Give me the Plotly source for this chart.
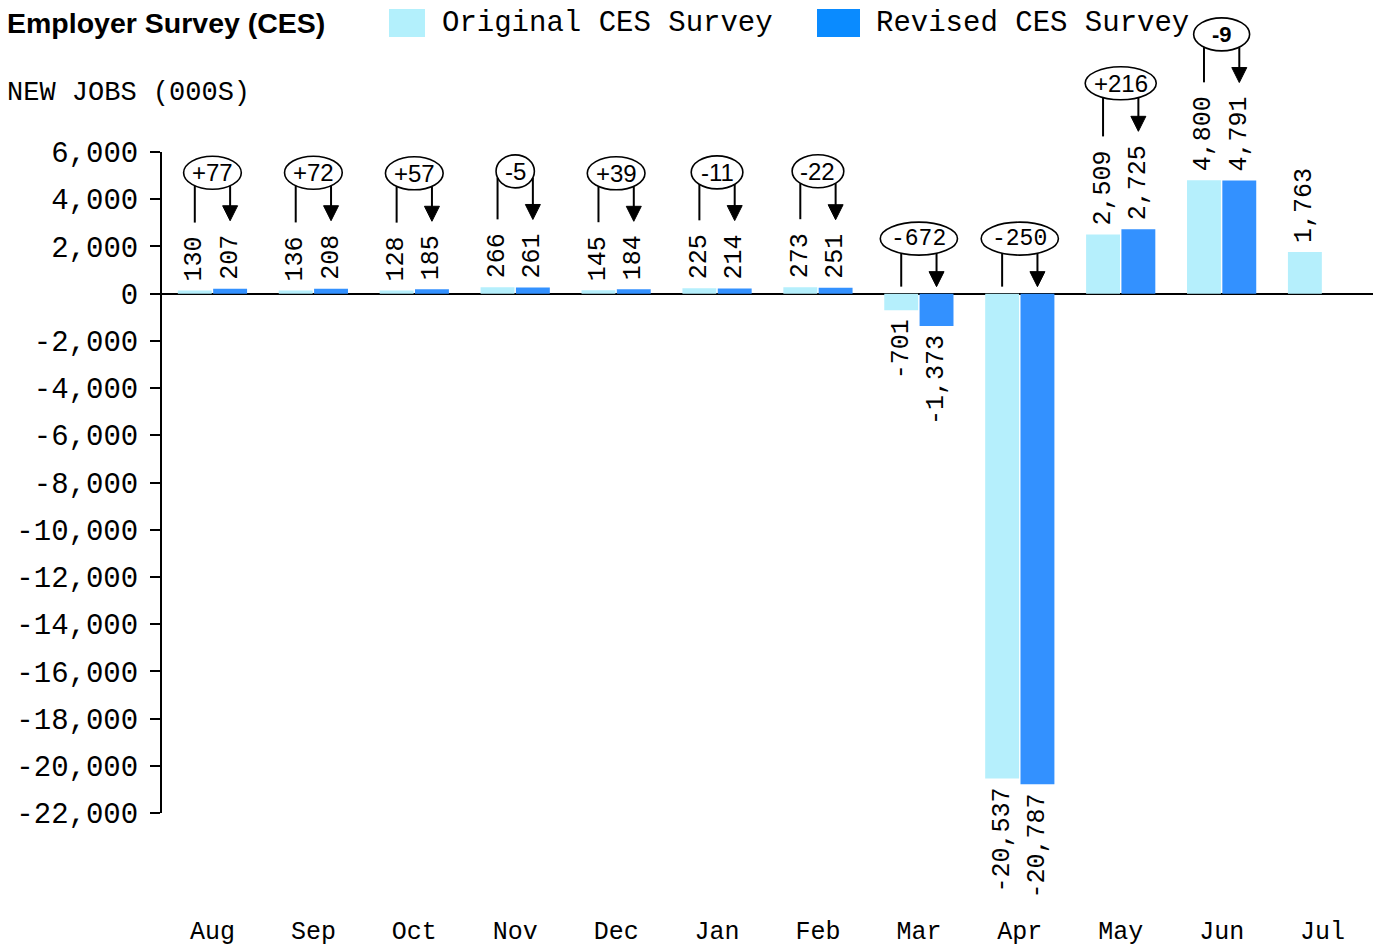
import plotly.graph_objects as go

# ---------------- data ----------------
months = ["Aug", "Sep", "Oct", "Nov", "Dec", "Jan", "Feb", "Mar", "Apr", "May", "Jun", "Jul"]
original = [130, 136, 128, 266, 145, 225, 273, -701, -20537, 2509, 4800, 1763]
revised = [207, 208, 185, 261, 184, 214, 251, -1373, -20787, 2725, 4791, None]
y_ticks = [6000, 4000, 2000, 0, -2000, -4000, -6000, -8000, -10000, -12000,
           -14000, -16000, -18000, -20000, -22000]
series_names = ["Original CES Survey", "Revised CES Survey"]

# ---------------- layout constants ----------------
PAGE = 8                      # browser body margin
W, H = 1386 - PAGE, 951 - PAGE
L, T = 162 - PAGE, 152 - PAGE
R, B = W - (1373 - PAGE), H - (813 - PAGE)
Y_MIN, Y_MAX = -22000, 6000
BARGAP = 0.3
MONO = "Liberation Mono"
SANS = "Liberation Sans"
C_ORIG = "#B5EFFC"
C_REV = "#3391FF"
C_ORIG_LEG = "#B3F0FC"
C_REV_LEG = "#0A8BFF"

plot_w = W - L - R
plot_h = H - T - B
ppu = plot_h / (Y_MAX - Y_MIN)          # pixels per data unit on y
zero_frac = (0 - Y_MIN) / (Y_MAX - Y_MIN)
cat_px = plot_w / len(months)           # pixels per category
bar_off = (1 - BARGAP) * cat_px / 4     # centre offset of each bar in a pair

PAD = '<span style="font-size:10px">\u00a0</span>'


def fmt(v):
    return "" if v is None else f"{v:,}"


def bar_text(v):
    if v is None:
        return ""
    return PAD + fmt(v) if v >= 0 else fmt(v) + PAD


fig = go.Figure()
fig.add_bar(x=months, y=original, name=series_names[0], marker_color=C_ORIG,
            marker_line_width=0, text=[bar_text(v) for v in original])
fig.add_bar(x=months, y=revised, name=series_names[1], marker_color=C_REV,
            marker_line_width=0, text=[bar_text(v) for v in revised])
fig.update_traces(textposition="outside", textangle=-90, cliponaxis=False,
                  constraintext="none",
                  textfont=dict(family=MONO, size=25, color="black"))

shapes = []
annotations = []
CHAR = 15
SANS_W = {"+": 0.584, "-": 0.333}
for i, m in enumerate(months):
    o, r = original[i], revised[i]
    if r is None:
        continue
    d = r - o
    label = f"{d:+d}"
    vals = [o, r]
    bottoms = []
    for v in vals:
        if o >= 0 and r >= 0:
            bottoms.append(v * ppu + CHAR * len(fmt(v)) + 8 + 15)
        else:
            bottoms.append(7)
    top = max(bottoms) + 33
    cy = top + 15
    # label style
    if o < 0 and r < 0:
        tfont = dict(family=MONO, size=23, color="black")
        tw = 0.6 * 23 * len(label)
        pad = 11
    elif m == "Jun":
        tfont = dict(family=SANS, size=22, color="black", weight="bold")
        tw = 36
        pad = 10
    else:
        tfont = dict(family=SANS, size=24, color="black")
        tw = sum(SANS_W.get(ch, 0.556) for ch in label) * 24
        pad = 8.5
    a = tw / 2 + pad
    b = 16.5
    common = dict(xref="x", yref="paper", xsizemode="pixel", ysizemode="pixel",
                  xanchor=m, yanchor=zero_frac)
    shapes.append(dict(type="circle", x0=-a, x1=a, y0=cy - b, y1=cy + b,
                       line=dict(color="black", width=1.6), fillcolor="white",
                       layer="above", **common))
    annotations.append(dict(x=m, y=0, xref="x", yref="y", text=label, showarrow=False,
                            yshift=cy, font=tfont, xanchor="center", yanchor="middle"))
    for k, sgn in enumerate([-1, 1]):
        xo = sgn * bar_off
        if abs(xo) < a:
            edge = cy - b * (1 - (xo / a) ** 2) ** 0.5
        else:
            edge = cy
        yb = bottoms[k]
        if k == 0:
            shapes.append(dict(type="line", x0=xo, x1=xo, y0=yb, y1=edge,
                               line=dict(color="black", width=2), **common))
        else:
            shapes.append(dict(type="line", x0=xo, x1=xo, y0=yb + 10, y1=edge,
                               line=dict(color="black", width=2), **common))
            shapes.append(dict(type="path",
                               path=f"M{xo - 7.5},{yb + 15} L{xo + 7.5},{yb + 15} L{xo},{yb} Z",
                               fillcolor="black", line=dict(color="black", width=1), **common))


# ---------------- manual legend / titles (paper coords from page pixels) ----------------
def px_x(px):
    return (px - PAGE - L) / plot_w


def px_y(py):
    return ((H - B) - (py - PAGE)) / plot_h


for (x0, x1, col) in [(389, 425, C_ORIG_LEG), (817, 860, C_REV_LEG)]:
    shapes.append(dict(type="rect", xref="paper", yref="paper", x0=px_x(x0), x1=px_x(x1),
                       y0=px_y(37), y1=px_y(9), fillcolor=col, line_width=0))
annotations.append(dict(xref="paper", yref="paper", x=px_x(440), y=px_y(23), text=series_names[0],
                        showarrow=False, xanchor="left", yanchor="middle",
                        font=dict(family=MONO, size=29, color="black")))
annotations.append(dict(xref="paper", yref="paper", x=px_x(874), y=px_y(23), text=series_names[1],
                        showarrow=False, xanchor="left", yanchor="middle",
                        font=dict(family=MONO, size=29, color="black")))
annotations.append(dict(xref="paper", yref="paper", x=px_x(5), y=px_y(23), text="<b>Employer Survey (CES)</b>",
                        showarrow=False, xanchor="left", yanchor="middle",
                        font=dict(family=SANS, size=28.5, color="black")))
annotations.append(dict(xref="paper", yref="paper", x=px_x(5), y=px_y(93), text="NEW JOBS (000S)",
                        showarrow=False, xanchor="left", yanchor="middle",
                        font=dict(family=MONO, size=27, color="black")))

fig.update_layout(
    width=W, height=H, margin=dict(l=L, r=R, t=T, b=B, autoexpand=False),
    paper_bgcolor="white", plot_bgcolor="white", showlegend=False,
    barmode="group", bargap=BARGAP, bargroupgap=0.04,
    shapes=shapes, annotations=annotations,
    xaxis=dict(showgrid=False, showline=False, ticks="", zeroline=False,
               tickfont=dict(family=MONO, size=25, color="black"), ticklabelstandoff=100),
    yaxis=dict(range=[Y_MIN, Y_MAX], showgrid=False, showline=True, linecolor="black", linewidth=2,
               ticks="outside", ticklen=10, tickwidth=2, tickcolor="black",
               tickvals=y_ticks, ticktext=[f"{v:,}" for v in y_ticks],
               tickfont=dict(family=MONO, size=29, color="black"), ticklabelstandoff=6,
               zeroline=True, zerolinecolor="black", zerolinewidth=1.5),
)

fig.write_html("out.html")
